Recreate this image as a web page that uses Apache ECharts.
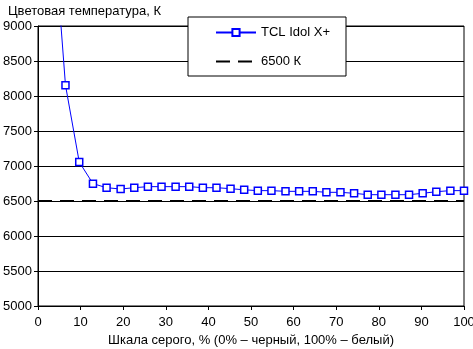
<!DOCTYPE html>
<html><head><meta charset="utf-8">
<script src="https://cdn.jsdelivr.net/npm/echarts@6/dist/echarts.min.js"></script>
<style>html,body{margin:0;padding:0;background:#fff}#c{width:473px;height:349px}</style>
</head><body><div id="c"></div>
<script>
const grayPct = [3.23, 6.45, 9.68, 12.9, 16.1, 19.4, 22.6, 25.8, 29.0, 32.3, 35.5, 38.7, 41.9, 45.2, 48.4, 51.6, 54.8, 58.1, 61.3, 64.5, 67.7, 71.0, 74.2, 77.4, 80.6, 83.9, 87.1, 90.3, 93.5, 96.8, 100];
const tclTemp = [10750, 8155, 7057, 6748, 6690, 6671, 6690, 6705, 6705, 6705, 6705, 6690, 6690, 6676, 6660, 6648, 6648, 6638, 6638, 6638, 6624, 6624, 6610, 6590, 6590, 6590, 6590, 6610, 6633, 6648, 6648];
const refX = [0, 100];
const refTemp = [6500, 6500];
const seriesNames = ['TCL Idol X+', '6500 К'];
const yTitle = 'Цветовая температура, К';
const xTitle = 'Шкала серого, % (0% – черный, 100% – белый)';

const font = 'Liberation Sans, Arial, sans-serif';
const chart = echarts.init(document.getElementById('c'), null, {renderer: 'canvas'});
chart.setOption({
  animation: false,
  backgroundColor: '#fff',
  textStyle: {fontFamily: font},
  title: {text: yTitle, left: 3, top: 0, textStyle: {fontSize: 13, fontWeight: 'normal', color: '#000', fontFamily: font}},
  grid: {left: 38, right: 9, top: 26, bottom: 43, show: true, borderColor: '#000', borderWidth: 1, backgroundColor: 'transparent', outerBoundsMode: 'none', containLabel: false},
  legend: {
    left: 188, top: 17, orient: 'vertical', backgroundColor: '#fff', borderColor: '#000', borderWidth: 1,
    padding: [9, 16, 8, 27], itemWidth: 40, itemHeight: 9, itemGap: 16,
    textStyle: {fontSize: 13, color: '#000', fontFamily: font},
    data: [{name: seriesNames[0]}, {name: seriesNames[1], itemStyle: {opacity: 0}}]
  },
  xAxis: {
    type: 'value', min: 0, max: 100, interval: 10,
    name: xTitle, nameLocation: 'middle', nameGap: 27,
    nameTextStyle: {fontSize: 13, color: '#000', fontFamily: font},
    axisLine: {lineStyle: {color: '#000', width: 1}},
    axisTick: {show: true, length: 4, lineStyle: {color: '#000'}},
    axisLabel: {fontSize: 13, color: '#000', margin: 10, fontFamily: font},
    splitLine: {show: false}
  },
  yAxis: {
    type: 'value', min: 5000, max: 9000, interval: 500,
    axisLine: {show: true, lineStyle: {color: '#000', width: 1}},
    axisTick: {show: true, length: 4, lineStyle: {color: '#000'}},
    axisLabel: {fontSize: 13, color: '#000', margin: 6, fontFamily: font, formatter: v => String(v)},
    splitLine: {show: true, lineStyle: {color: '#000', width: 1}}
  },
  series: [
    {
      name: seriesNames[0], type: 'line', clip: true,
      data: grayPct.map((x, i) => [x, tclTemp[i]]),
      symbol: 'rect', symbolSize: 7, showAllSymbol: true,
      lineStyle: {color: '#0000ff', width: 1},
      itemStyle: {color: '#fff', borderColor: '#0000ff', borderWidth: 1.5},
      z: 3
    },
    {
      name: seriesNames[1], type: 'line',
      data: refX.map((x, i) => [x, refTemp[i]]),
      symbol: 'none',
      lineStyle: {color: '#000', width: 2, type: [14, 8]},
      itemStyle: {color: '#000'},
      z: 2
    }
  ]
});
</script></body></html>
